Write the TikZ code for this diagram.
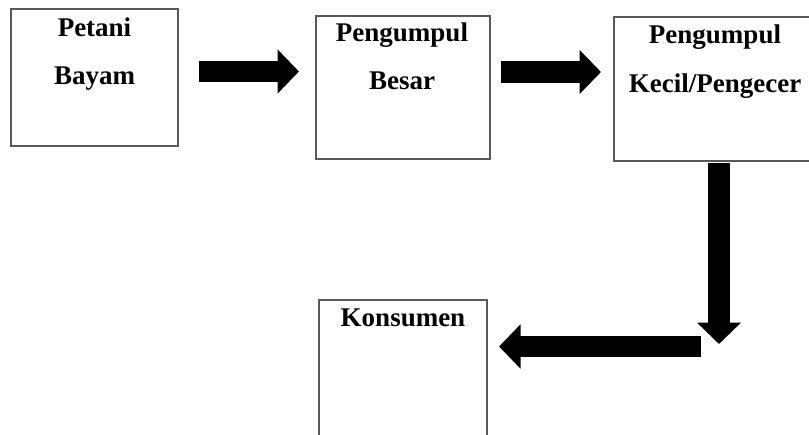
\documentclass[tikz,border=0pt]{standalone}
\usepackage{fontspec}
\setmainfont{Liberation Serif}
\usetikzlibrary{arrows.meta}
\tikzset{
  box/.style={draw=black!65, line width=1.1pt, fill=white, rectangle, inner sep=0pt},
  lbl/.style={font=\fontsize{27}{30}\selectfont\bfseries, anchor=base, inner sep=0pt},
  blockarrow/.style={line width=21.5pt, draw=black, -{Triangle[length=21.5pt,width=43pt]}}
}
\begin{document}
\begin{tikzpicture}[x=1pt,y=-1pt]
\useasboundingbox (0,0) rectangle (809,434);
\clip (0,0) rectangle (809,434);
\fill[white] (0,0) rectangle (809,434);
% boxes
\node[box, minimum width=167pt, minimum height=137pt] (b1) at (94.5,77.5) {};
\node[box, minimum width=174pt, minimum height=143pt] (b2) at (403,87.5) {};
\node[box, minimum width=202pt, minimum height=144pt] (b3) at (715,89) {};
\node[box, minimum width=168pt, minimum height=160pt] (b4) at (403,380) {};
% labels
\node[lbl] (t1a) at (94.5,36.5) {Petani};
\node[lbl] (t1b) at (94.5,84.5) {Bayam};
\node[lbl] (t2a) at (402,41.5) {Pengumpul};
\node[lbl] (t2b) at (402,89) {Besar};
\node[lbl] (t3a) at (715,43) {Pengumpul};
\node[lbl] (t3b) at (715,92) {Kecil/Pengecer};
\node[lbl] (t4a) at (403,326.5) {Konsumen};
% arrow end points
\coordinate (a1s) at (199,71.5);
\coordinate (a1e) at (299,71.5);
\coordinate (a2s) at (501,72);
\coordinate (a2e) at (601,72);
\coordinate (a3s) at (719,163);
\coordinate (a3e) at (719,344);
\coordinate (a4s) at (701,346.5);
\coordinate (a4e) at (499,346.5);
% arrows
\draw[blockarrow] (a1s) -- (a1e);
\draw[blockarrow] (a2s) -- (a2e);
\draw[blockarrow] (a3s) -- (a3e);
\draw[blockarrow] (a4s) -- (a4e);
\end{tikzpicture}
\end{document}
